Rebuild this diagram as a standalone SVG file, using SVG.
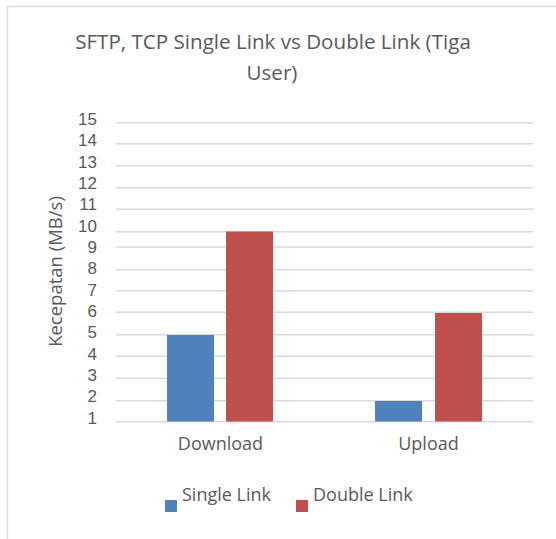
<svg xmlns="http://www.w3.org/2000/svg" width="556" height="539" viewBox="0 0 556 539">
<style>
text{font-family:"Open Sans","Liberation Sans",sans-serif;fill:#595959}
.grid{stroke:#d9d9d9;stroke-width:1.5}
.tick{font-family:"Liberation Sans",Arial,sans-serif;font-size:17px;text-anchor:end}
.cat{font-size:18px;text-anchor:middle}
.leg{font-size:18px}
.s{fill:#4f81bd}
.d{fill:#c0504d}
</style>
<rect x="0" y="0" width="556" height="539" fill="#ffffff"/>
<path d="M7.5 539V6.5H556" fill="none" stroke="#d9d9d9" stroke-width="1.5"/>
<g id="title">
<text x="273" y="49" font-size="20.6" text-anchor="middle">SFTP, TCP Single Link vs Double Link (Tiga</text>
<text x="272" y="80" font-size="20.6" text-anchor="middle">User)</text>
</g>
<g id="gridlines">
<line class="grid" x1="116" x2="533" y1="122.7" y2="122.7"/>
<line class="grid" x1="116" x2="533" y1="143.7" y2="143.7"/>
<line class="grid" x1="116" x2="533" y1="165.7" y2="165.7"/>
<line class="grid" x1="116" x2="533" y1="187.7" y2="187.7"/>
<line class="grid" x1="116" x2="533" y1="209.3" y2="209.3"/>
<line class="grid" x1="116" x2="533" y1="231.7" y2="231.7"/>
<line class="grid" x1="116" x2="533" y1="247" y2="247"/>
<line class="grid" x1="116" x2="533" y1="269.7" y2="269.7"/>
<line class="grid" x1="116" x2="533" y1="290.7" y2="290.7"/>
<line class="grid" x1="116" x2="533" y1="312.3" y2="312.3"/>
<line class="grid" x1="116" x2="533" y1="334.7" y2="334.7"/>
<line class="grid" x1="116" x2="533" y1="356.3" y2="356.3"/>
<line class="grid" x1="116" x2="533" y1="378.3" y2="378.3"/>
<line class="grid" x1="116" x2="533" y1="400.7" y2="400.7"/>
<line class="grid" x1="116" x2="533" y1="421.7" y2="421.7"/>
</g>
<g id="y-axis">
<text class="tick" x="97" y="124.9">15</text>
<text class="tick" x="97" y="146.2">14</text>
<text class="tick" x="97" y="167.6">13</text>
<text class="tick" x="97" y="188.9">12</text>
<text class="tick" x="97" y="210.3">11</text>
<text class="tick" x="97" y="231.6">10</text>
<text class="tick" x="97" y="252.9">9</text>
<text class="tick" x="97" y="274.3">8</text>
<text class="tick" x="97" y="295.6">7</text>
<text class="tick" x="97" y="317">6</text>
<text class="tick" x="97" y="338.3">5</text>
<text class="tick" x="97" y="359.6">4</text>
<text class="tick" x="97" y="381">3</text>
<text class="tick" x="97" y="402.3">2</text>
<text class="tick" x="97" y="423.7">1</text>
<text x="0" y="0" font-size="18.5" text-anchor="middle" transform="translate(61.5 271.5) rotate(-90)">Kecepatan (MB/s)</text>
</g>
<g id="download">
<rect class="s" x="167" y="335" width="47" height="86.5"/>
<rect class="d" x="226" y="231.5" width="47" height="190"/>
<text class="cat" x="220.5" y="450">Download</text>
</g>
<g id="upload">
<rect class="s" x="375" y="401" width="47" height="20.5"/>
<rect class="d" x="435" y="313" width="47" height="108.5"/>
<text class="cat" x="428.5" y="450">Upload</text>
</g>
<g id="legend">
<rect class="s" x="165" y="500" width="12" height="12"/>
<text class="leg" x="182" y="500.5">Single Link</text>
<rect class="d" x="296" y="500" width="12" height="12"/>
<text class="leg" x="313" y="500.5">Double Link</text>
</g>
</svg>
